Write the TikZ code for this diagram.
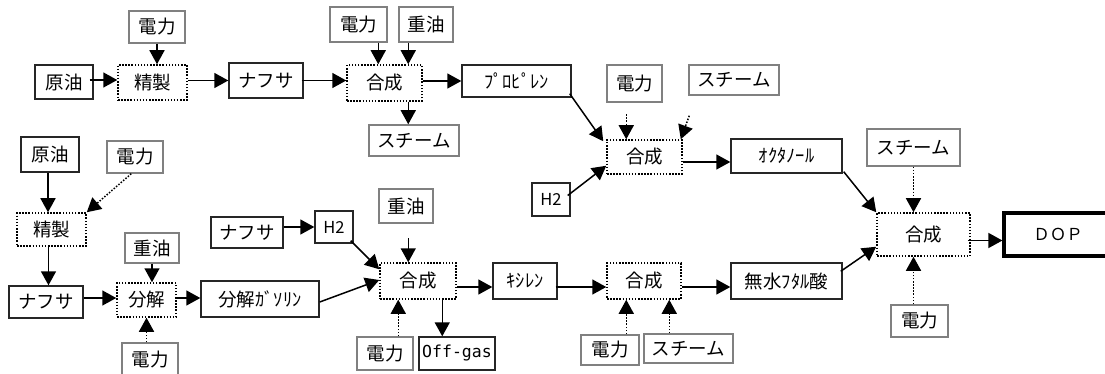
\documentclass[tikz,border=0pt]{standalone}
\usepackage{fontspec}
\setmainfont{Noto Sans CJK JP}
\newfontfamily\monof{DejaVu Sans Mono}
\usetikzlibrary{arrows.meta,calc}
\tikzset{
  base/.style={rectangle, inner sep=0pt, font=\fontsize{18.5}{21}\selectfont, fill=white},
  bbox/.style={base, draw=black!85, line width=1.4pt},
  gbox/.style={base, draw=black!50, line width=1.5pt},
  pbox/.style={base, draw=black, line width=1.5pt, dash pattern=on 1.5pt off 1.6pt},
  tbox/.style={base, draw=black, line width=3.2pt},
  arr/.style={line width=1.5pt, -{Triangle[length=14pt,width=15pt]}},
  darr/.style={arr, dash pattern=on 1.5pt off 1.6pt},
}
\begin{document}
\begin{tikzpicture}[x=1pt,y=-1pt]
\useasboundingbox (0,0) rectangle (1105,374);
\clip (0,0) rectangle (1105,374);
% ---- top row
\node[bbox, minimum width=58pt, minimum height=34pt] (o1) at (64,82) {原油};
\node[pbox, minimum width=69pt, minimum height=35pt] (r1) at (152.5,82.5) {精製};
\node[bbox, minimum width=74pt, minimum height=35pt] (n1) at (266,80.5) {ナフサ};
\node[pbox, minimum width=75pt, minimum height=36pt] (g1) at (384.5,83) {合成};
\node[gbox, minimum width=56pt, minimum height=32pt] (d1) at (157,27) {電力};
\node[gbox, minimum width=57pt, minimum height=35pt] (d2) at (358.5,24.5) {電力};
\node[gbox, minimum width=54pt, minimum height=35pt] (h1) at (426,24.5) {重油};
\node[gbox, minimum width=90pt, minimum height=31pt] (s1) at (414,140.5) {スチーム};
\node[bbox, minimum width=109pt, minimum height=32pt] (pr) at (516.5,81) {ﾌﾟﾛﾋﾟﾚﾝ};
\node[gbox, minimum width=55pt, minimum height=37pt] (d3) at (634.5,83.5) {電力};
\node[gbox, minimum width=90pt, minimum height=30pt] (s2) at (734,80) {スチーム};
\node[pbox, minimum width=75pt, minimum height=34pt] (g2) at (644.5,157) {合成};
\node[bbox, minimum width=38pt, minimum height=33pt, font=\fontsize{16.5}{19}\selectfont] (h2a) at (551,199.5) {H2};
\node[bbox, minimum width=111pt, minimum height=34pt] (oc) at (786.5,156) {ｵｸﾀﾉｰﾙ};
\node[gbox, minimum width=93pt, minimum height=37pt] (s3) at (913.5,147.5) {スチーム};
\node[pbox, minimum width=93pt, minimum height=43pt] (g3) at (923.5,234.5) {合成};
\node[tbox, minimum width=108pt, minimum height=43pt, font=\fontsize{16.5}{19}\selectfont] (dop) at (1058,234.5) {ＤＯＰ};
\node[gbox, minimum width=57pt, minimum height=32pt] (d4) at (919.5,321) {電力};
\node[bbox, minimum width=111pt, minimum height=36pt] (mu) at (786.5,281) {無水ﾌﾀﾙ酸};
% ---- lower left
\node[bbox, minimum width=58pt, minimum height=35pt] (o2) at (50,154.5) {原油};
\node[gbox, minimum width=56pt, minimum height=32pt] (d5) at (135,157) {電力};
\node[pbox, minimum width=69pt, minimum height=33pt] (r2) at (51.5,229.5) {精製};
\node[bbox, minimum width=74pt, minimum height=32pt] (n2) at (46,302) {ナフサ};
\node[pbox, minimum width=59pt, minimum height=34pt] (bk) at (146.5,300) {分解};
\node[gbox, minimum width=54pt, minimum height=30pt] (h3) at (152,248) {重油};
\node[gbox, minimum width=56pt, minimum height=33pt] (d6) at (150,359.5) {電力};
\node[bbox, minimum width=118pt, minimum height=36pt] (gs) at (260,299) {分解ｶﾞｿﾘﾝ};
\node[bbox, minimum width=72pt, minimum height=31pt] (n3) at (247,232.5) {ナフサ};
\node[bbox, minimum width=38pt, minimum height=32pt, font=\fontsize{16.5}{19}\selectfont] (h2b) at (334,227) {H2};
\node[gbox, minimum width=54pt, minimum height=34pt] (h4) at (406,206) {重油};
\node[pbox, minimum width=76pt, minimum height=36pt] (g4) at (418,281) {合成};
\node[gbox, minimum width=56pt, minimum height=33pt] (d7) at (385,353.5) {電力};
\node[bbox, minimum width=76pt, minimum height=33pt, font=\monof\fontsize{16.5}{19}\selectfont] (og) at (457,353.5) {Off-gas};
\node[bbox, minimum width=64pt, minimum height=36pt] (ky) at (525,281) {ｷｼﾚﾝ};
\node[pbox, minimum width=74pt, minimum height=36pt] (g5) at (644,281) {合成};
\node[gbox, minimum width=58pt, minimum height=30pt] (d8) at (610,350) {電力};
\node[gbox, minimum width=89pt, minimum height=29pt] (s4) at (688.5,348.5) {スチーム};
% ---- helper coordinates
\coordinate (g1a) at ($(g1.north west)+(32,0)$);
\coordinate (g1b) at ($(g1.north west)+(62,0)$);
\coordinate (g2a) at ($(g2.north west)+(20,0)$);
\coordinate (ocin) at ($(oc.west)+(0,6)$);
\coordinate (dopin) at ($(dop.west)+(0,6)$);
\coordinate (g4a) at ($(g4.north west)+(29,0)$);
\coordinate (g4b) at ($(g4.south west)+(19,0)$);
\coordinate (g4c) at ($(g4.south west)+(63,0)$);
\coordinate (kyin) at ($(ky.west)+(0,6)$);
\coordinate (g5a) at ($(g5.south west)+(20,0)$);
\coordinate (g5b) at ($(g5.south west)+(63,0)$);
% ---- top connectors
\draw[arr] ($(o1.east)+(-4,-2)$) -- ($(o1.east -| r1.west)+(0,-2)$);
\draw[arr] (r1.east |- n1.west) -- (n1.west);
\draw[arr] ($(n1.east)+(-2,0)$) -- (n1.east -| g1.west);
\draw[arr] (d1.south) -- (d1.south |- r1.north);
\draw[arr] (d2.south -| g1a) -- (g1a);
\draw[arr] (h1.south -| g1b) -- (g1b);
\draw[arr] (g1.south -| g1b) -- (s1.north -| g1b);
\draw[arr] (pr.west -| g1.east) -- (pr.west);
\draw[arr] ($(pr.south east)+(-2,-4)$) -- ($(g2.north west)+(-3,2)$);
\draw[darr] ($(g2a)+(0,-25)$) -- (g2a);
\draw[darr] ($(s2.south west)+(1,20)$) -- ($(g2.north east)+(-2,0)$);
\draw[arr] ($(h2a.east)+(-3,-4)$) -- ($(g2.south west)+(0,-9)$);
\draw[arr] (g2.east |- ocin) -- (ocin);
\draw[arr] ($(oc.south east)+(1,-2)$) -- (g3.north west);
\draw[darr] (s3.south) -- (s3.south |- g3.north);
\draw[darr] (d4.north -| s3.south) -- (g3.south -| s3.south);
\draw[arr] ($(mu.north east)+(-2,9)$) -- ($(g3.south west)+(0,-10)$);
\draw[arr] ($(g3.east |- dopin)+(-3,0)$) -- (dopin);
% ---- lower connectors
\draw[arr] ($(o2.south)+(-2,0)$) -- ($(o2.south |- r2.north)+(-2,0)$);
\draw[darr] ($(d5.south west)+(25,0)$) -- (r2.north east);
\draw[arr] ($(r2.south)+(-3,0)$) -- ($(r2.south |- n2.north)+(-3,0)$);
\draw[arr] ($(bk.west -| n2.east)+(0,-2)$) -- ($(bk.west)+(0,-2)$);
\draw[arr] (h3.south) -- (h3.south |- bk.north);
\draw[darr] (bk.south |- d6.north) -- (bk.south);
\draw[arr] ($(bk.east)+(-2,-2)$) -- ($(bk.east -| gs.west)+(0,-2)$);
\draw[arr] ($(gs.east)+(0,3)$) -- ($(g4.west)+(0,-1)$);
\draw[arr] (h2b.west -| n3.east) -- (h2b.west);
\draw[arr] ($(h2b.south east)+(-3,-3)$) -- ($(g4.north west)+(0,7)$);
\draw[arr] ($(g4a)+(0,-24)$) -- (g4a);
\draw[darr] (d7.north -| g4b) -- (g4b);
\draw[arr] (g4c) -- (g4c |- og.north);
\draw[arr] (g4.east |- kyin) -- (kyin);
\draw[arr] ($(ky.east)+(-2,6)$) -- ($(g5.west)+(0,6)$);
\draw[darr] (d8.north -| g5a) -- (g5a);
\draw[darr] (s4.north -| g5b) -- (g5b);
\draw[arr] ($(g5.east)+(0,6)$) -- ($(mu.west)+(0,6)$);
\end{tikzpicture}
\end{document}
